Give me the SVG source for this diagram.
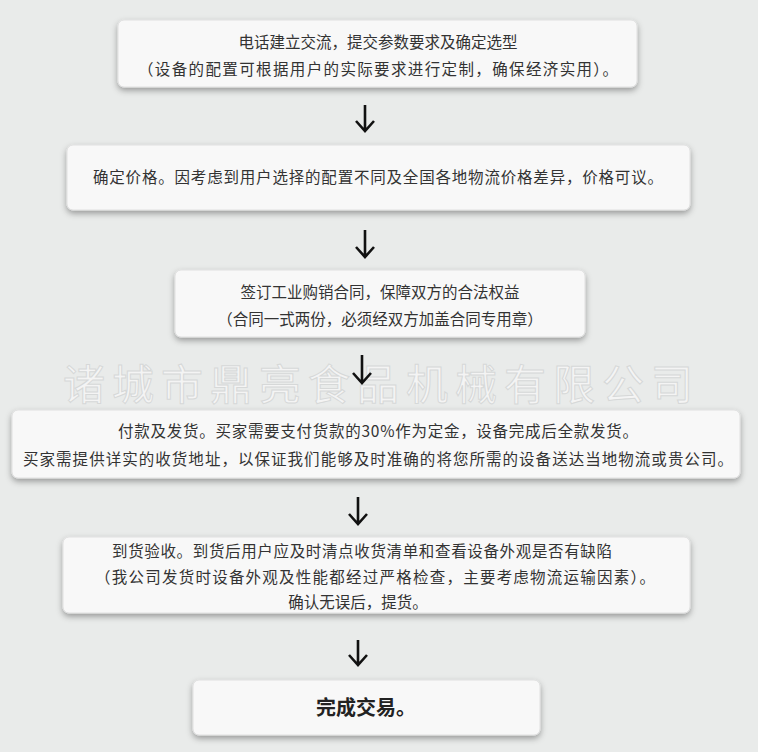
<svg xmlns="http://www.w3.org/2000/svg" width="758" height="752" viewBox="0 0 758 752">
<defs>
<filter id="sh" x="-5%" y="-20%" width="110%" height="150%"><feDropShadow dx="0" dy="3" stdDeviation="3" flood-color="#000" flood-opacity="0.35"/></filter>
</defs>
<style>
.b{fill:#f8f8f8;stroke:#e0e0e0;filter:url(#sh)}
.t{font-family:"Noto Sans CJK SC","Liberation Sans",sans-serif;font-size:15.5px;fill:#333;text-anchor:middle}
.a{stroke:#111;stroke-width:2.6;fill:none}
</style>
<rect width="758" height="752" fill="#e9ebea"/>
<text x="378" y="400" font-family="Noto Sans CJK SC,sans-serif" font-size="42" fill="#f4f4f4" stroke="#d6d8d8" stroke-width="1" text-anchor="middle" textLength="630">诸城市鼎亮食品机械有限公司</text>
<g id="connectors">
<path class="a" d="M365,105 V130 M356,121 L365,131 L374,121"/>
<path class="a" d="M365,230 V256 M356,247 L365,257 L374,247"/>
<path class="a" d="M362,355 V382 M353,373 L362,383 L371,373"/>
<path class="a" d="M358,497 V523 M349,514 L358,524 L367,514"/>
<path class="a" d="M358,640 V664 M349,655 L358,665 L367,655"/>
</g>
<g id="n1"><rect class="b" x="118" y="20" width="519" height="67" rx="6"/>
<text class="t" x="378" y="48">电话建立交流，提交参数要求及确定选型</text>
<text class="t" x="378" y="75" textLength="480">（设备的配置可根据用户的实际要求进行定制，确保经济实用）。</text></g>
<g id="n2"><rect class="b" x="67" y="145" width="623" height="65" rx="6"/>
<text class="t" x="378" y="183" textLength="570">确定价格。因考虑到用户选择的配置不同及全国各地物流价格差异，价格可议。</text></g>
<g id="n3"><rect class="b" x="175" y="270" width="410" height="67" rx="6"/>
<text class="t" x="380" y="298">签订工业购销合同，保障双方的合法权益</text>
<text class="t" x="380" y="325">（合同一式两份，必须经双方加盖合同专用章）</text></g>
<g id="n4"><rect class="b" x="12" y="410" width="728" height="68" rx="6"/>
<text class="t" x="378" y="437" textLength="520">付款及发货。买家需要支付货款的30%作为定金，设备完成后全款发货。</text>
<text class="t" x="378" y="465" textLength="710">买家需提供详实的收货地址，以保证我们能够及时准确的将您所需的设备送达当地物流或贵公司。</text></g>
<g id="n5"><rect class="b" x="63" y="537" width="627" height="76" rx="6"/>
<text class="t" x="362" y="557" textLength="500">到货验收。到货后用户应及时清点收货清单和查看设备外观是否有缺陷</text>
<text class="t" x="375" y="583" textLength="560">（我公司发货时设备外观及性能都经过严格检查，主要考虑物流运输因素）。</text>
<text class="t" x="358" y="608">确认无误后，提货。</text></g>
<g id="n6"><rect class="b" x="193" y="680" width="347" height="55" rx="6"/>
<text class="t" x="366" y="715" style="font-size:20px;font-weight:bold;fill:#222">完成交易。</text></g>
</svg>
